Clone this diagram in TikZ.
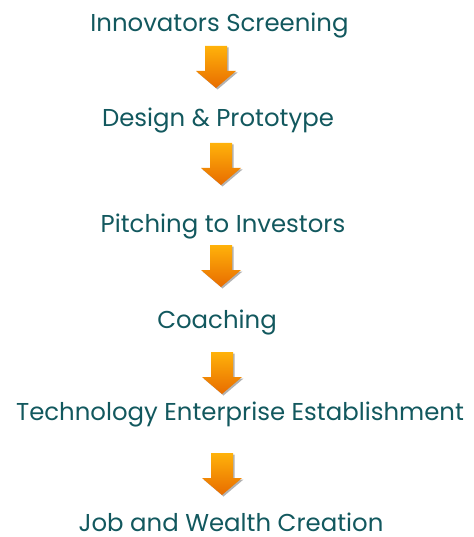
\documentclass[tikz,border=0pt]{standalone}
\usepackage{fontspec}
\setmainfont{Poppins}
\usetikzlibrary{calc}
\definecolor{txtcol}{RGB}{18,88,94}
\definecolor{orTop}{RGB}{255,178,10}
\definecolor{orBot}{RGB}{232,108,0}
\tikzset{
  lbl/.style={text=txtcol, font=\fontsize{24.4}{28}\selectfont, anchor=base, inner sep=0pt},
  arrowbody/.style={top color=orTop, bottom color=orBot, draw=none},
  arrowshadow/.style={fill=black!30, draw=none},
}
\newcommand\blockarrowpath{(-11,0) -- (11,0) -- (11,25) -- (20,25) -- (0,42) -- (-20,25) -- (-11,25) -- cycle}
\begin{document}
\begin{tikzpicture}[x=1pt, y=-1pt]
\useasboundingbox (0,0) rectangle (473,537);
\node[lbl] (t1) at (219.5,32) {Innovators Screening};
\node[lbl] (t2) at (218,127) {Design \& Prototype};
\node[lbl] (t3) at (223,232) {Pitching to Investors};
\node[lbl] (t4) at (217,328) {Coaching};
\node[lbl] (t5) at (240,420) {Technology Enterprise Establishment};
\node[lbl] (t6) at (231,531) {Job and Wealth Creation};
\foreach \n/\x/\y in {a1/216/46, a2/221/143, a3/221/245, a4/222/352, a5/222/453}{
  \coordinate (\n) at (\x,\y);
  \fill[arrowshadow, shift={($(\n)+(1.5,1.5)$)}] \blockarrowpath;
  \shade[arrowbody, shift={(\n)}] \blockarrowpath;
}
\end{tikzpicture}
\end{document}
